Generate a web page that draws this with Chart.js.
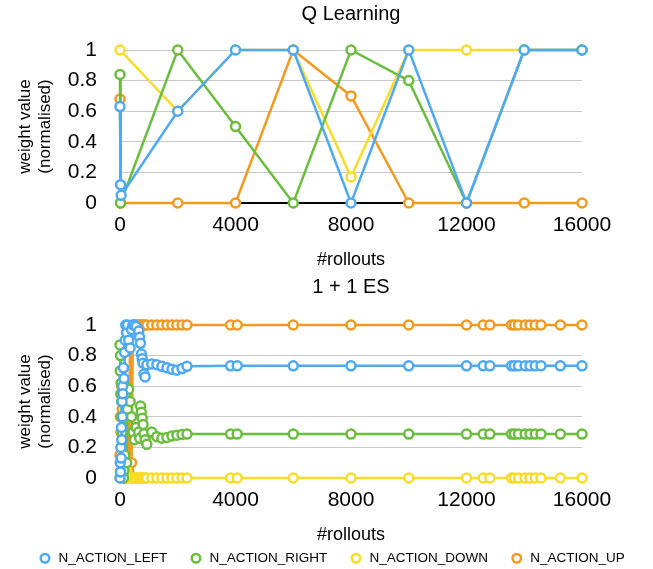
<!DOCTYPE html>
<html>
<head>
<meta charset="utf-8">
<script src="https://cdn.jsdelivr.net/npm/chart.js@4.4.1/dist/chart.umd.min.js"></script>
<style>
  html, body { margin: 0; padding: 0; background: #fff; overflow: hidden; }
  #top { position: absolute; left: 0; top: 0; width: 653px; height: 272px; }
  #bottom { position: absolute; left: 0; top: 272px; width: 653px; height: 303px; }
</style>
</head>
<body>
<div id="top"><canvas id="q"></canvas></div>
<div id="bottom"><canvas id="es"></canvas></div>
<script>
const seriesNames = ["N_ACTION_LEFT", "N_ACTION_RIGHT", "N_ACTION_DOWN", "N_ACTION_UP"];
const seriesColors = ["#4ea9f4", "#6bbd3e", "#fbdc25", "#f29a1f"];

const xTicks = [0, 4000, 8000, 12000, 16000];
const yTicks = [0, 0.2, 0.4, 0.6, 0.8, 1];

// Q Learning
const qLeftX = [0, 20, 40, 2000, 4000, 6000, 8000, 10000, 12000, 14000, 16000];
const qLeftY = [0.63, 0.12, 0.05, 0.6, 1, 1, 0, 1, 0, 1, 1];
const qRightX = [0, 20, 2000, 4000, 6000, 8000, 10000, 12000, 14000, 16000];
const qRightY = [0.84, 0, 1, 0.5, 0, 1, 0.8, 0, 1, 1];
const qDownX = [0, 2000, 4000, 6000, 8000, 10000, 12000, 14000, 16000];
const qDownY = [1, 0.6, 1, 1, 0.17, 1, 1, 1, 1];
const qUpX = [0, 20, 2000, 4000, 6000, 8000, 10000, 12000, 14000, 16000];
const qUpY = [0.68, 0, 0, 0, 1, 0.7, 0, 0, 0, 0];

// 1 + 1 ES
const esRollouts = [
  0, 10, 20, 30, 40, 50, 60, 70, 80, 90, 100, 120, 140, 160, 180, 200, 230, 260, 300, 350, 400, 450, 500, 560,
  650, 680, 710, 740, 770, 800, 830, 870, 930,
  1100, 1275, 1450, 1625, 1800, 1970, 2150, 2320,
  3830, 4060, 6000, 8000, 10000, 12000, 12580, 12810, 13560, 13660, 13800, 14030, 14200, 14380, 14580, 15250, 16000
];
const esLeft = [
  0.0, 0.1, 0.04, 0.2, 0.13, 0.33, 0.25, 0.5, 0.4, 0.6, 0.55, 0.72, 0.65, 0.82, 0.9, 1.0, 0.95, 1.0, 0.9, 0.85, 0.97, 1.0, 1.0, 0.99,
  0.96, 0.92, 0.88, 0.81, 0.78, 0.75, 0.68, 0.66, 0.74,
  0.745, 0.74, 0.73, 0.72, 0.71, 0.705, 0.715, 0.73,
  0.733, 0.733, 0.733, 0.733, 0.733, 0.733, 0.733, 0.733, 0.733, 0.733, 0.733, 0.733, 0.733, 0.733, 0.733, 0.733, 0.733
];
const esRight = [
  0.87, 0.7, 0.8, 0.55, 0.62, 0.4, 0.5, 0.3, 0.2, 0.1, 0.02, 0.0, 0.05, 0.15, 0.6, 0.55, 0.1, 0.45, 0.58, 0.5, 0.4, 0.3, 0.25, 0.33,
  0.3, 0.26, 0.47, 0.43, 0.39, 0.35, 0.29, 0.25, 0.22,
  0.3, 0.27, 0.26, 0.265, 0.275, 0.28, 0.285, 0.287,
  0.287, 0.287, 0.287, 0.287, 0.287, 0.287, 0.287, 0.287, 0.287, 0.287, 0.287, 0.287, 0.287, 0.287, 0.287, 0.287, 0.287
];
const esDown = [
  0.0, 0.05, 0.0, 0.1, 0.0, 0.0, 0.05, 0.0, 0.3, 0.0, 0.0, 0.1, 0.0, 0.0, 0.0, 0.0, 0.05, 0.0, 0.0, 0.0, 0.0, 0.0, 0.0, 0.0,
  0, 0, 0, 0, 0, 0, 0, 0, 0,
  0, 0, 0, 0, 0, 0, 0, 0,
  0, 0, 0, 0, 0, 0, 0, 0, 0, 0, 0, 0, 0, 0, 0, 0, 0
];
const esUp = [
  0.15, 0.4, 0.7, 0.3, 0.55, 0.2, 0.6, 0.1, 0.45, 0.05, 0.3, 0.0, 0.0, 0.1, 0.0, 0.05, 0.0, 0.3, 0.05, 0.95, 0.1, 1.0, 1.0, 1.0,
  1, 1, 1, 1, 1, 1, 1, 1, 1,
  1, 1, 1, 1, 1, 1, 1, 1,
  1, 1, 1, 1, 1, 1, 1, 1, 1, 1, 1, 1, 1, 1, 1, 1, 1
];

Chart.defaults.font.family = "'Liberation Sans', Arial, Helvetica, sans-serif";
Chart.defaults.color = "#000";

function pts(xs, ys) {
  return xs.map((x, i) => ({ x: x, y: ys[i] }));
}

function lineSet(i, data) {
  return {
    label: seriesNames[i],
    data: data,
    borderColor: seriesColors[i],
    backgroundColor: "#fff",
    pointBackgroundColor: "#fff",
    pointBorderColor: seriesColors[i],
    borderWidth: 2.5,
    pointRadius: 4.5,
    pointBorderWidth: 2.5,
    pointStyle: "circle",
    tension: 0,
    clip: false,
  };
}

function makeOptions(cfg) {
  return {
    responsive: true,
    maintainAspectRatio: false,
    animation: false,
    layout: { padding: { left: 10, right: 0, top: 0, bottom: 0 } },
    plugins: {
      tooltip: { enabled: false },
      title: {
        display: true,
        text: cfg.title,
        fullSize: false,
        font: { size: 20, weight: "normal" },
        padding: cfg.titlePad,
      },
      legend: {
        display: cfg.legend,
        position: "bottom",
        labels: {
          usePointStyle: true,
          boxWidth: 13.5,
          boxHeight: 6,
          padding: 22,
          font: { size: 13.5 },
        },
      },
    },
    scales: {
      x: {
        type: "linear",
        min: 0,
        max: 16000,
        afterBuildTicks: (s) => { s.ticks = xTicks.map((v) => ({ value: v })); },
        afterFit: (s) => { s.paddingRight = 71; },
        ticks: {
          padding: 10,
          maxRotation: 0,
          autoSkip: false,
          font: { size: 21 },
          callback: (v) => String(v),
        },
        grid: { color: "rgba(0,0,0,0)", drawTicks: false },
        border: { display: true, color: cfg.axisColor, width: 2 },
        title: {
          display: true,
          text: "#rollouts",
          font: { size: 18 },
          padding: { top: 1, bottom: cfg.xTitleBottom },
        },
      },
      y: {
        min: 0,
        max: 1,
        afterBuildTicks: (s) => { s.ticks = yTicks.map((v) => ({ value: v })); },
        afterFit: (s) => { s.width = 110; },
        ticks: {
          padding: 23,
          autoSkip: false,
          font: { size: 21 },
          callback: (v) => String(v),
        },
        grid: {
          color: (c) => (c.tick && c.tick.value === 0 ? "rgba(0,0,0,0)" : "#c8c8c8"),
          lineWidth: 1,
          drawTicks: false,
        },
        border: { display: false },
        title: {
          display: true,
          text: ["weight value", "(normalised)"],
          font: { size: 17 },
          padding: { top: 4.8, bottom: 0 },
        },
      },
    },
  };
}

new Chart(document.getElementById("q"), {
  type: "line",
  data: {
    datasets: [
      lineSet(0, pts(qLeftX, qLeftY)),
      lineSet(1, pts(qRightX, qRightY)),
      lineSet(2, pts(qDownX, qDownY)),
      lineSet(3, pts(qUpX, qUpY)),
    ],
  },
  options: makeOptions({
    title: "Q Learning",
    titlePad: { top: 2.2, bottom: 23.8 },
    axisColor: "#000",
    legend: false,
    xTitleBottom: 1.2,
  }),
});

new Chart(document.getElementById("es"), {
  type: "line",
  data: {
    datasets: [
      lineSet(0, pts(esRollouts, esLeft)),
      lineSet(1, pts(esRollouts, esRight)),
      lineSet(2, pts(esRollouts, esDown)),
      lineSet(3, pts(esRollouts, esUp)),
    ],
  },
  options: makeOptions({
    title: "1 + 1 ES",
    titlePad: { top: 3.5, bottom: 25.5 },
    axisColor: "#8a8a8a",
    legend: true,
    xTitleBottom: -16.3,
  }),
});
</script>
</body>
</html>
